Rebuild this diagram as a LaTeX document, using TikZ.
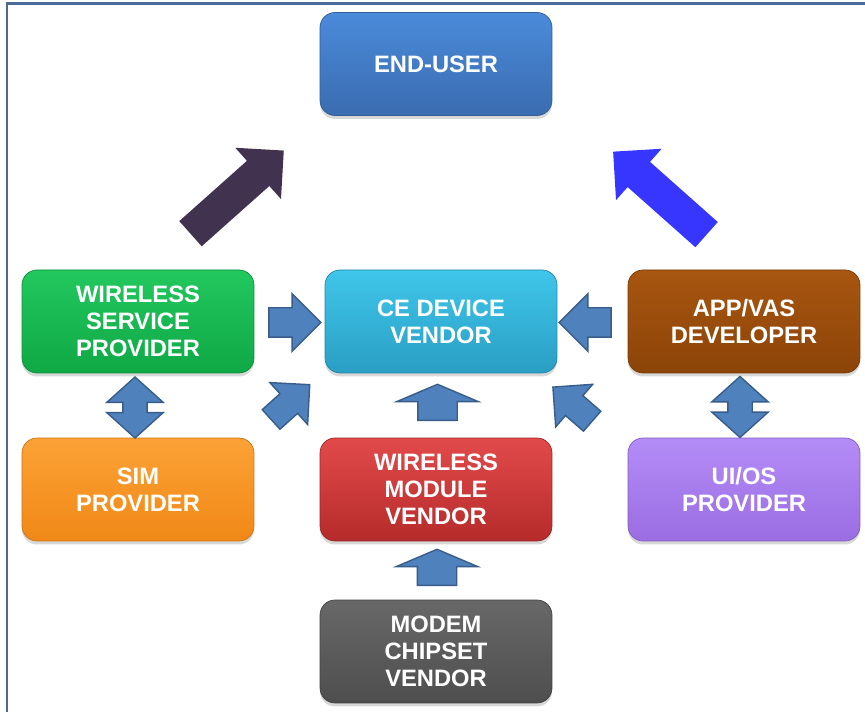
\documentclass[tikz,border=0pt]{standalone}
\usepackage{fontspec}
\setmainfont{Liberation Sans}
\usetikzlibrary{calc}
\usetikzlibrary{shapes.arrows}
\usetikzlibrary{shadows}

\definecolor{framecol}{HTML}{4A6B95}
\definecolor{arrowfill}{HTML}{4F81BD}
\definecolor{arrowline}{HTML}{385D8A}
\definecolor{bigpurple}{HTML}{41324F}
\definecolor{bigblue}{HTML}{3636FF}
\definecolor{userA}{HTML}{4B8BDB}\definecolor{userB}{HTML}{3A6CB0}
\definecolor{wspA}{HTML}{22C85E}\definecolor{wspB}{HTML}{0FA846}
\definecolor{ceA}{HTML}{3FC6EA}\definecolor{ceB}{HTML}{2A9EC4}
\definecolor{appA}{HTML}{A85610}\definecolor{appB}{HTML}{8C4408}
\definecolor{simA}{HTML}{FCA236}\definecolor{simB}{HTML}{F08816}
\definecolor{modA}{HTML}{E24A4A}\definecolor{modB}{HTML}{B62B2B}
\definecolor{uiA}{HTML}{B48CF7}\definecolor{uiB}{HTML}{9A6DE2}
\definecolor{chipA}{HTML}{686868}\definecolor{chipB}{HTML}{4E4E4E}

\tikzset{
    box/.style={rounded corners=0.3cm, minimum width=4.64cm, minimum height=2.06cm,
        text=white, align=center, font=\bfseries\fontsize{13.5}{15.5}\selectfont,
        drop shadow={opacity=0.3, shadow xshift=0pt, shadow yshift=-0.07cm}},
    blockarrow/.style={single arrow, fill=arrowfill, draw=arrowline, line width=0.8pt, inner xsep=0pt},
    sidearrow/.style={blockarrow, minimum height=1.04cm, inner ysep=0.28cm,
        single arrow head extend=0.28cm, single arrow tip angle=90},
    uparrow/.style={blockarrow, minimum height=0.72cm, inner ysep=0.38cm,
        single arrow head extend=0.42cm, single arrow tip angle=134, rotate=90},
    diagarrow/.style={blockarrow, minimum height=1.04cm, inner ysep=0.25cm,
        single arrow head extend=0.3cm, single arrow tip angle=90},
    updown/.style={double arrow, fill=arrowfill, draw=arrowline, line width=0.8pt, inner xsep=0pt,
        minimum height=1.22cm, inner ysep=0.23cm, double arrow head extend=0.32cm,
        double arrow tip angle=96, rotate=90},
    bigarrow/.style={single arrow, inner xsep=0pt, minimum height=2.5cm, inner ysep=0.33cm,
        single arrow head extend=0.35cm, single arrow tip angle=90}
}

\begin{document}
\begin{tikzpicture}[x=0.02cm, y=0.02cm]
\useasboundingbox (0,0) rectangle (865,712);
\fill[white] (0,0) rectangle (865,712);
% frame edges
\draw[framecol, line width=0.06cm] (865,708) -- (7,708) -- (7,0);

% the eight boxes
\foreach \name/\x/\y/\ctop/\cbot/\txt in {
    enduser/436/648/userA/userB/{END-USER},
    wsp/138/390.5/wspA/wspB/{WIRELESS\\SERVICE\\PROVIDER},
    cedevice/441/390.5/ceA/ceB/{CE DEVICE\\VENDOR},
    appdev/744/390.5/appA/appB/{APP/VAS\\DEVELOPER},
    simprov/138/222.5/simA/simB/{SIM\\PROVIDER},
    modvendor/436/222.5/modA/modB/{WIRELESS\\MODULE\\VENDOR},
    uios/744/222.5/uiA/uiB/{UI/OS\\PROVIDER},
    chipset/436/60.5/chipA/chipB/{MODEM\\CHIPSET\\VENDOR}}{
    \node[box, top color=\ctop, bottom color=\cbot, draw=\cbot!85!black, line width=0.4pt] (\name) at (\x,\y) {\txt};
}

% arrows into the CE device vendor
\node[sidearrow] (wsp2ce) at ($(wsp.east)!.5!(cedevice.west)+(-2,-1)$) {};
\node[sidearrow, rotate=180] (app2ce) at ($(appdev.west)!.5!(cedevice.east)+(0,-1)$) {};
\node[uparrow] (mod2ce) at ($(modvendor.north)!.5!(cedevice.south)+(-1,-1)$) {};
\node[diagarrow, rotate=42] (sim2ce) at ($(simprov.north east)!.5!(cedevice.south west)+(-4,-1)$) {};
\node[diagarrow, rotate=139] (ui2ce) at ($(uios.north west)!.5!(cedevice.south east)+(-15,-3)$) {};
\node[uparrow] (chip2mod) at ($(chipset.north)!.5!(modvendor.south)+(1,-1)$) {};

% two-way links
\node[updown] (wsp2sim) at ($(wsp.south)!.5!(simprov.north)+(-3,-2)$) {};
\node[updown] (app2ui) at ($(appdev.south)!.5!(uios.north)+(-4,-1.5)$) {};

% towards the end-user
\node[bigarrow, fill=bigpurple, rotate=41.7] (wsp2user) at ($(wsp.north)!.5!(enduser.south west)+(2,-5)$) {};
\node[bigarrow, fill=bigblue, rotate=138.4] (app2user) at ($(appdev.north)!.5!(enduser.south east)+(18,-6)$) {};
\end{tikzpicture}
\end{document}
